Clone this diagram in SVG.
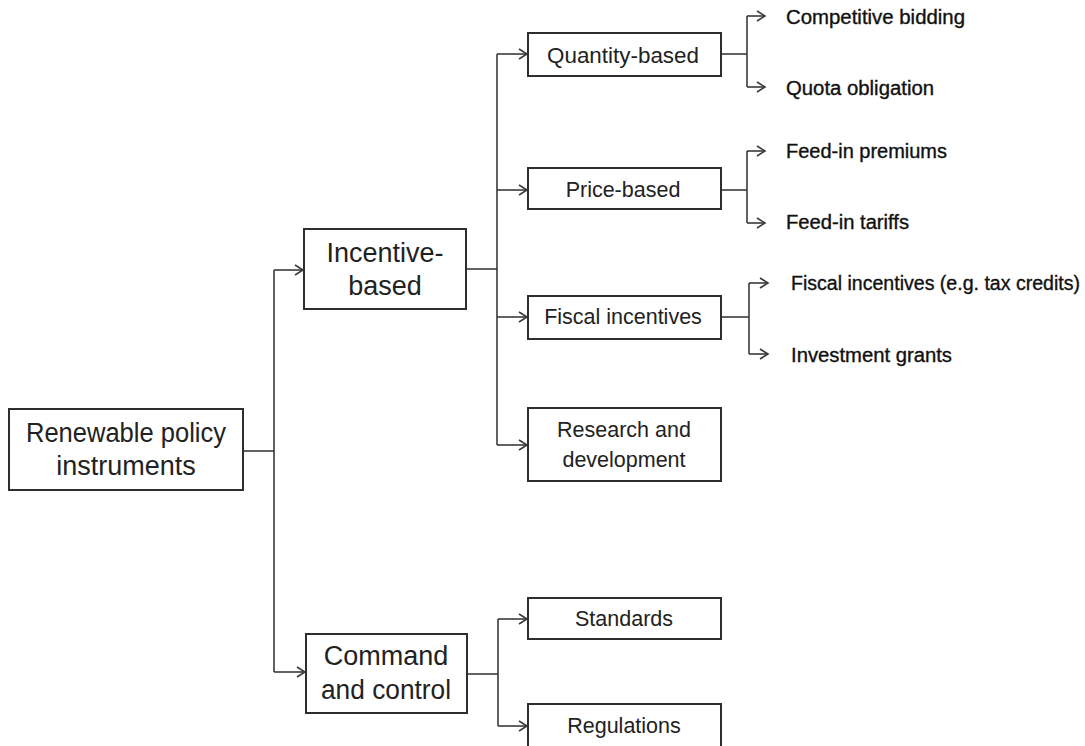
<svg xmlns="http://www.w3.org/2000/svg" width="1085" height="746" viewBox="0 0 1085 746">
<style>
.box{fill:#fff;stroke:#2e2e2e;stroke-width:2}
.ln{fill:none;stroke:#3a3a3a;stroke-width:1.6}
.big{font-family:"Liberation Sans",Arial,sans-serif;font-size:27px;fill:#222;text-anchor:middle}
.mid{font-family:"Liberation Sans",Arial,sans-serif;font-size:21.5px;fill:#222;text-anchor:middle}
.leaf{font-family:"Liberation Sans",Arial,sans-serif;font-size:19.5px;fill:#111;stroke:#111;stroke-width:0.35}
</style>
<defs>
<marker id="arr" markerUnits="userSpaceOnUse" markerWidth="12" markerHeight="12" refX="9" refY="6" orient="auto">
<path d="M1,1 L9,6 L1,11" fill="none" stroke="#3a3a3a" stroke-width="1.6"/>
</marker>
</defs>
<rect width="1085" height="746" fill="#fff"/>
<g id="connectors">
<path class="ln" d="M243,451 H274"/>
<path class="ln" d="M274,270 V672"/>
<path class="ln" d="M274,270 H303" marker-end="url(#arr)"/>
<path class="ln" d="M274,672 H305" marker-end="url(#arr)"/>
<path class="ln" d="M466,269 H497"/>
<path class="ln" d="M497,54 V445"/>
<path class="ln" d="M497,54 H527" marker-end="url(#arr)"/>
<path class="ln" d="M497,190 H527" marker-end="url(#arr)"/>
<path class="ln" d="M497,317 H527" marker-end="url(#arr)"/>
<path class="ln" d="M497,445 H527" marker-end="url(#arr)"/>
<path class="ln" d="M467,674 H498"/>
<path class="ln" d="M498,619 V726"/>
<path class="ln" d="M498,619 H527" marker-end="url(#arr)"/>
<path class="ln" d="M498,726 H527" marker-end="url(#arr)"/>
<path class="ln" d="M721,54 H747"/>
<path class="ln" d="M747,16 V87"/>
<path class="ln" d="M747,16 H765" marker-end="url(#arr)"/>
<path class="ln" d="M747,87 H765" marker-end="url(#arr)"/>
<path class="ln" d="M721,190 H747"/>
<path class="ln" d="M747,151 V223"/>
<path class="ln" d="M747,151 H765" marker-end="url(#arr)"/>
<path class="ln" d="M747,223 H765" marker-end="url(#arr)"/>
<path class="ln" d="M721,317 H749"/>
<path class="ln" d="M749,283 V354"/>
<path class="ln" d="M749,283 H768" marker-end="url(#arr)"/>
<path class="ln" d="M749,354 H768" marker-end="url(#arr)"/>
</g>
<g id="renewable">
<rect class="box" x="9" y="409" width="234" height="81"/>
<text class="big" x="126" y="442" textLength="200" lengthAdjust="spacingAndGlyphs">Renewable policy</text>
<text class="big" x="126" y="475">instruments</text>
</g>
<g id="incentive">
<rect class="box" x="304" y="229" width="162" height="80"/>
<text class="big" x="385" y="262">Incentive-</text>
<text class="big" x="385" y="295">based</text>
</g>
<g id="command">
<rect class="box" x="306" y="634" width="161" height="79"/>
<text class="big" x="386" y="665">Command</text>
<text class="big" x="386" y="699" textLength="130" lengthAdjust="spacingAndGlyphs">and control</text>
</g>
<g id="quantity">
<rect class="box" x="528" y="33" width="193" height="43"/>
<text class="mid" x="623" y="63" textLength="152" lengthAdjust="spacingAndGlyphs">Quantity-based</text>
</g>
<g id="price">
<rect class="box" x="528" y="168" width="193" height="41"/>
<text class="mid" x="623" y="197">Price-based</text>
</g>
<g id="fiscal">
<rect class="box" x="528" y="296" width="193" height="43"/>
<text class="mid" x="623" y="324">Fiscal incentives</text>
</g>
<g id="rnd">
<rect class="box" x="528" y="408" width="193" height="73"/>
<text class="mid" x="624" y="437">Research and</text>
<text class="mid" x="624" y="467">development</text>
</g>
<g id="standards">
<rect class="box" x="528" y="598" width="193" height="41"/>
<text class="mid" x="624" y="626">Standards</text>
</g>
<g id="regulations">
<rect class="box" x="528" y="704" width="193" height="50"/>
<text class="mid" x="624" y="733">Regulations</text>
</g>
<g id="leaf-competitive"><text class="leaf" x="786" y="24" textLength="179" lengthAdjust="spacingAndGlyphs">Competitive bidding</text></g>
<g id="leaf-quota"><text class="leaf" x="786" y="95" textLength="148" lengthAdjust="spacingAndGlyphs">Quota obligation</text></g>
<g id="leaf-premiums"><text class="leaf" x="786" y="158" textLength="161" lengthAdjust="spacingAndGlyphs">Feed-in premiums</text></g>
<g id="leaf-tariffs"><text class="leaf" x="786" y="229" textLength="123" lengthAdjust="spacingAndGlyphs">Feed-in tariffs</text></g>
<g id="leaf-fiscal"><text class="leaf" x="791" y="290" textLength="289" lengthAdjust="spacingAndGlyphs">Fiscal incentives (e.g. tax credits)</text></g>
<g id="leaf-grants"><text class="leaf" x="791" y="362" textLength="161" lengthAdjust="spacingAndGlyphs">Investment grants</text></g>
</svg>
